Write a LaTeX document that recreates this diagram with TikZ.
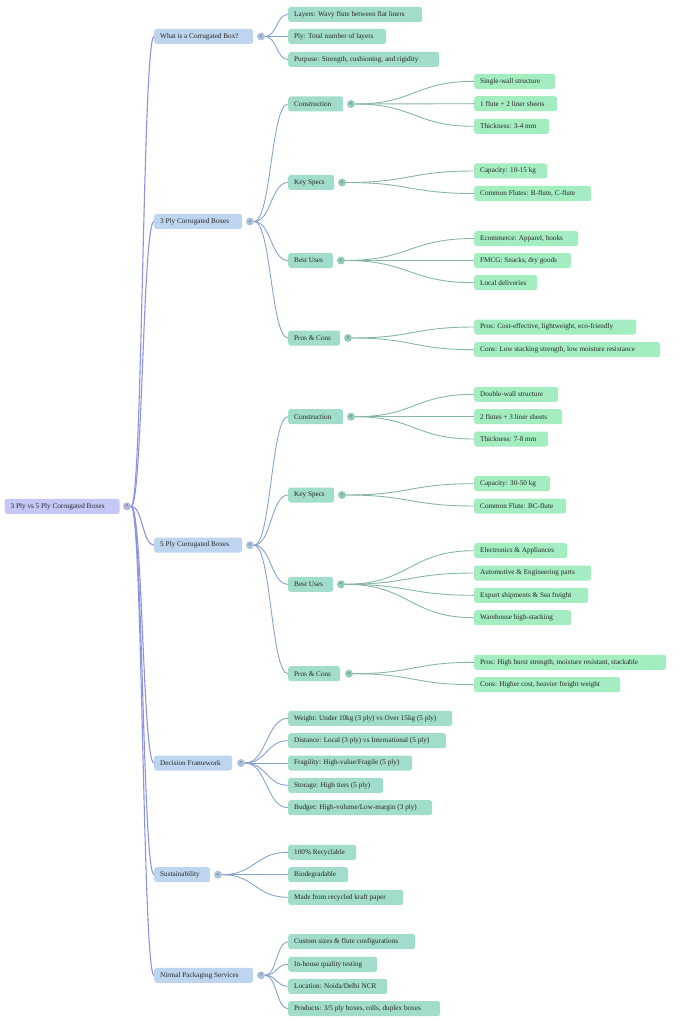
\documentclass[tikz,border=0pt]{standalone}
\usepackage{fontspec}
\setmainfont{Liberation Serif}
\usetikzlibrary{calc}
\definecolor{rootfill}{HTML}{C5C7F6}
\definecolor{lonefill}{HTML}{BDD5EF}
\definecolor{tealfill}{HTML}{A2DDCB}
\definecolor{mintfill}{HTML}{A3EDC1}
\definecolor{rootedge}{HTML}{8E92E3}
\definecolor{loneedge}{HTML}{86A3D0}
\definecolor{tealedge}{HTML}{88B5A6}
\definecolor{txt}{HTML}{262626}
\newcommand\bx[2]{\makebox[\dimexpr#1pt-12pt\relax][l]{#2}}
\newcommand\mlink[3]{\draw[#3] (#1.east) .. controls ($(#1.east)!0.5!(#2.west |- #1.east)$) and ($(#2.west)!0.5!(#1.east |- #2.west)$) .. (#2.west);}
\tikzset{
  anybox/.style={rounded corners=2.5pt, anchor=west, minimum height=15pt, inner xsep=6pt, inner ysep=0pt, font=\fontsize{7.2}{8}\selectfont, text=txt},
  rootbox/.style={anybox, fill=rootfill},
  lonebox/.style={anybox, fill=lonefill},
  tealbox/.style={anybox, fill=tealfill},
  mintbox/.style={anybox, fill=mintfill},
  knob/.style={circle, inner sep=0pt, minimum size=8pt, font=\fontsize{5.5}{5.5}\selectfont, text=txt},
  rlink/.style={rootedge, line width=1.1pt},
  blink/.style={loneedge, line width=0.9pt},
  glink/.style={tealedge, line width=0.9pt},
}
\begin{document}
\begin{tikzpicture}[x=1pt,y=-1pt]
\useasboundingbox (0,0) rectangle (683,1024);
% root
\node[rootbox] (root) at (4.5,506.3) {\bx{115}{3 Ply vs 5 Ply Corrugated Boxes}};
\node[knob, fill=rootfill!92!black] (k0) at (127,506.3) {<};
% level 1
\node[lonebox] (what) at (154,36.5) {\bx{99}{What is a Corrugated Box?}};
\node[knob, fill=lonefill!92!black] (kwhat) at (261,36.5) {<};
\node[lonebox] (three) at (154,221.5) {\bx{88}{3 Ply Corrugated Boxes}};
\node[knob, fill=lonefill!92!black] (kthree) at (250,221.5) {<};
\node[lonebox] (five) at (154,545.2) {\bx{88}{5 Ply Corrugated Boxes}};
\node[knob, fill=lonefill!92!black] (kfive) at (250,545.2) {<};
\node[lonebox] (dec) at (154,763) {\bx{78}{Decision Framework}};
\node[knob, fill=lonefill!92!black] (kdec) at (241,763) {<};
\node[lonebox] (sus) at (154,874.7) {\bx{56}{Sustainability}};
\node[knob, fill=lonefill!92!black] (ksus) at (218,874.7) {<};
\node[lonebox] (nir) at (154,975.3) {\bx{99}{Nirmal Packaging Services}};
\node[knob, fill=lonefill!92!black] (knir) at (261,975.3) {<};
% what is
\node[tealbox] (w1) at (288,14.5) {\bx{134}{Layers: Wavy flute between flat liners}};
\node[tealbox] (w2) at (288,36.5) {\bx{98}{Ply: Total number of layers}};
\node[tealbox] (w3) at (288,59.5) {\bx{151}{Purpose: Strength, cushioning, and rigidity}};
% 3 ply
\node[tealbox] (tc) at (288,104) {\bx{55}{Construction}};
\node[knob, fill=tealfill!92!black] (ktc) at (351,104) {<};
\node[tealbox] (tk) at (288,182.5) {\bx{46}{Key Specs}};
\node[knob, fill=tealfill!92!black] (ktk) at (342,182.5) {<};
\node[tealbox] (tb) at (288,260.5) {\bx{45}{Best Uses}};
\node[knob, fill=tealfill!92!black] (ktb) at (341,260.5) {<};
\node[tealbox] (tp) at (288,338) {\bx{52}{Pros \& Cons}};
\node[knob, fill=tealfill!92!black] (ktp) at (348,338) {<};
\node[mintbox] (tc1) at (474,81.3) {\bx{81}{Single-wall structure}};
\node[mintbox] (tc2) at (474,103.7) {\bx{83}{1 flute + 2 liner sheets}};
\node[mintbox] (tc3) at (474,126.3) {\bx{75}{Thickness: 3-4 mm}};
\node[mintbox] (tk1) at (474,171) {\bx{73}{Capacity: 10-15 kg}};
\node[mintbox] (tk2) at (474,193.5) {\bx{117}{Common Flutes: B-flute, C-flute}};
\node[mintbox] (tb1) at (474,238.5) {\bx{104}{Ecommerce: Apparel, books}};
\node[mintbox] (tb2) at (474,260.5) {\bx{97}{FMCG: Snacks, dry goods}};
\node[mintbox] (tb3) at (474,282.7) {\bx{63}{Local deliveries}};
\node[mintbox] (tp1) at (474,327) {\bx{162}{Pros: Cost-effective, lightweight, eco-friendly}};
\node[mintbox] (tp2) at (474,349.7) {\bx{186}{Cons: Low stacking strength, low moisture resistance}};
% 5 ply
\node[tealbox] (fc) at (288,416.7) {\bx{55}{Construction}};
\node[knob, fill=tealfill!92!black] (kfc) at (351,416.7) {<};
\node[tealbox] (fk) at (288,495) {\bx{46}{Key Specs}};
\node[knob, fill=tealfill!92!black] (kfk) at (342,495) {<};
\node[tealbox] (fb) at (288,584.3) {\bx{45}{Best Uses}};
\node[knob, fill=tealfill!92!black] (kfb) at (341,584.3) {<};
\node[tealbox] (fp) at (288,673.7) {\bx{52}{Pros \& Cons}};
\node[knob, fill=tealfill!92!black] (kfp) at (349,673.7) {<};
\node[mintbox] (fc1) at (474,394.3) {\bx{84}{Double-wall structure}};
\node[mintbox] (fc2) at (474,416.7) {\bx{88}{2 flutes + 3 liner sheets}};
\node[mintbox] (fc3) at (474,439) {\bx{74}{Thickness: 7-8 mm}};
\node[mintbox] (fk1) at (474,483.7) {\bx{76}{Capacity: 30-50 kg}};
\node[mintbox] (fk2) at (474,506) {\bx{92}{Common Flute: BC-flute}};
\node[mintbox] (fb1) at (474,550.7) {\bx{93}{Electronics \& Appliances}};
\node[mintbox] (fb2) at (474,573) {\bx{117}{Automotive \& Engineering parts}};
\node[mintbox] (fb3) at (474,595.3) {\bx{114}{Export shipments \& Sea freight}};
\node[mintbox] (fb4) at (474,617.7) {\bx{97}{Warehouse high-stacking}};
\node[mintbox] (fp1) at (474,662.3) {\bx{192}{Pros: High burst strength, moisture resistant, stackable}};
\node[mintbox] (fp2) at (474,684.7) {\bx{146}{Cons: Higher cost, heavier freight weight}};
% decision
\node[tealbox] (d1) at (288,718.3) {\bx{164}{Weight: Under 10kg (3 ply) vs Over 15kg (5 ply)}};
\node[tealbox] (d2) at (288,740.7) {\bx{158}{Distance: Local (3 ply) vs International (5 ply)}};
\node[tealbox] (d3) at (288,763) {\bx{124}{Fragility: High-value/Fragile (5 ply)}};
\node[tealbox] (d4) at (288,785.3) {\bx{95}{Storage: High tiers (5 ply)}};
\node[tealbox] (d5) at (288,807.7) {\bx{144}{Budget: High-volume/Low-margin (3 ply)}};
% sustainability
\node[tealbox] (s1) at (288,852.3) {\bx{68}{100\% Recyclable}};
\node[tealbox] (s2) at (288,874.7) {\bx{60}{Biodegradable}};
\node[tealbox] (s3) at (288,897.3) {\bx{115}{Made from recycled kraft paper}};
% nirmal
\node[tealbox] (n1) at (288,941.7) {\bx{127}{Custom sizes \& flute configurations}};
\node[tealbox] (n2) at (288,964.3) {\bx{89}{In-house quality testing}};
\node[tealbox] (n3) at (288,986.3) {\bx{99}{Location: Noida/Delhi NCR}};
\node[tealbox] (n4) at (288,1008.7) {\bx{152}{Products: 3/5 ply boxes, rolls, duplex boxes}};
% links
\foreach \c in {what,three,five,dec,sus,nir} {\mlink{k0}{\c}{rlink}}
\foreach \c in {w1,w2,w3} {\mlink{kwhat}{\c}{blink}}
\foreach \c in {tc,tk,tb,tp} {\mlink{kthree}{\c}{blink}}
\foreach \c in {fc,fk,fb,fp} {\mlink{kfive}{\c}{blink}}
\foreach \c in {d1,d2,d3,d4,d5} {\mlink{kdec}{\c}{blink}}
\foreach \c in {s1,s2,s3} {\mlink{ksus}{\c}{blink}}
\foreach \c in {n1,n2,n3,n4} {\mlink{knir}{\c}{blink}}
\foreach \c in {tc1,tc2,tc3} {\mlink{ktc}{\c}{glink}}
\foreach \c in {tk1,tk2} {\mlink{ktk}{\c}{glink}}
\foreach \c in {tb1,tb2,tb3} {\mlink{ktb}{\c}{glink}}
\foreach \c in {tp1,tp2} {\mlink{ktp}{\c}{glink}}
\foreach \c in {fc1,fc2,fc3} {\mlink{kfc}{\c}{glink}}
\foreach \c in {fk1,fk2} {\mlink{kfk}{\c}{glink}}
\foreach \c in {fb1,fb2,fb3,fb4} {\mlink{kfb}{\c}{glink}}
\foreach \c in {fp1,fp2} {\mlink{kfp}{\c}{glink}}
\end{tikzpicture}
\end{document}
